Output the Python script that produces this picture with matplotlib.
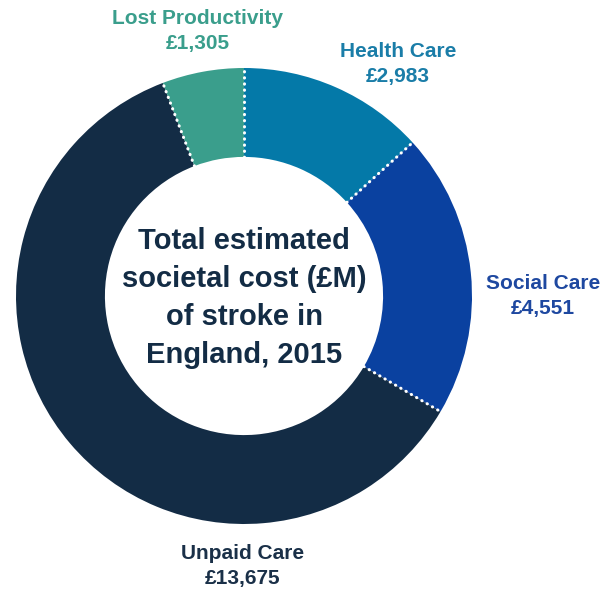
import numpy as np
import matplotlib.pyplot as plt

plt.rcParams['font.family'] = ['Liberation Sans', 'DejaVu Sans']

# ---------------- Данные ----------------
categories = ['Health Care', 'Social Care', 'Unpaid Care', 'Lost Productivity']
costs = [2983, 4551, 13675, 1305]
colors = ['#0479A8', '#0A41A0', '#132C45', '#3A9E8C']
label_colors = ['#1A7DA8', '#1E48A0', '#1A3048', '#3A9E8C']

R_OUT = 1.0
WIDTH = 0.39

fig = plt.figure(figsize=(6.03, 5.91), dpi=100)
ax = fig.add_axes([16 / 603, 67 / 591, 456 / 603, 456 / 591])

ax.pie(costs, colors=colors, startangle=90, counterclock=False,
       radius=R_OUT, wedgeprops=dict(width=WIDTH, edgecolor='none'))
ax.set_xlim(-1, 1)
ax.set_ylim(-1, 1)
ax.set_aspect('equal')
ax.axis('off')

# пунктирные белые разделители
total = sum(costs)
cum = np.cumsum([0] + costs)
for c in cum[:-1]:
    ang = np.deg2rad(90 - 360 * c / total)
    r = np.array([R_OUT - WIDTH, R_OUT])
    ax.plot(r * np.cos(ang), r * np.sin(ang), color='white', lw=2.2,
            linestyle=(0, (0.1, 1.9)), dash_capstyle='round', zorder=5)

ax.text(0, -0.01, 'Total estimated\nsocietal cost (£M)\nof stroke in\nEngland, 2015',
        ha='center', va='center', fontsize=21, fontweight='bold',
        color='#132C45', linespacing=1.45)

# подписи сегментов (в пикселях относительно фигуры)
label_pos = [(398, 64), (543, 296), (243, 566), (198, 31)]
for name, val, col, (px, py) in zip(categories, costs, label_colors, label_pos):
    fig.text(px / 603, 1 - py / 591, f'{name}\n£{val:,}', ha='center', va='center',
             fontsize=15, fontweight='bold', color=col, linespacing=1.38)

fig.savefig('out.png', dpi=100)
